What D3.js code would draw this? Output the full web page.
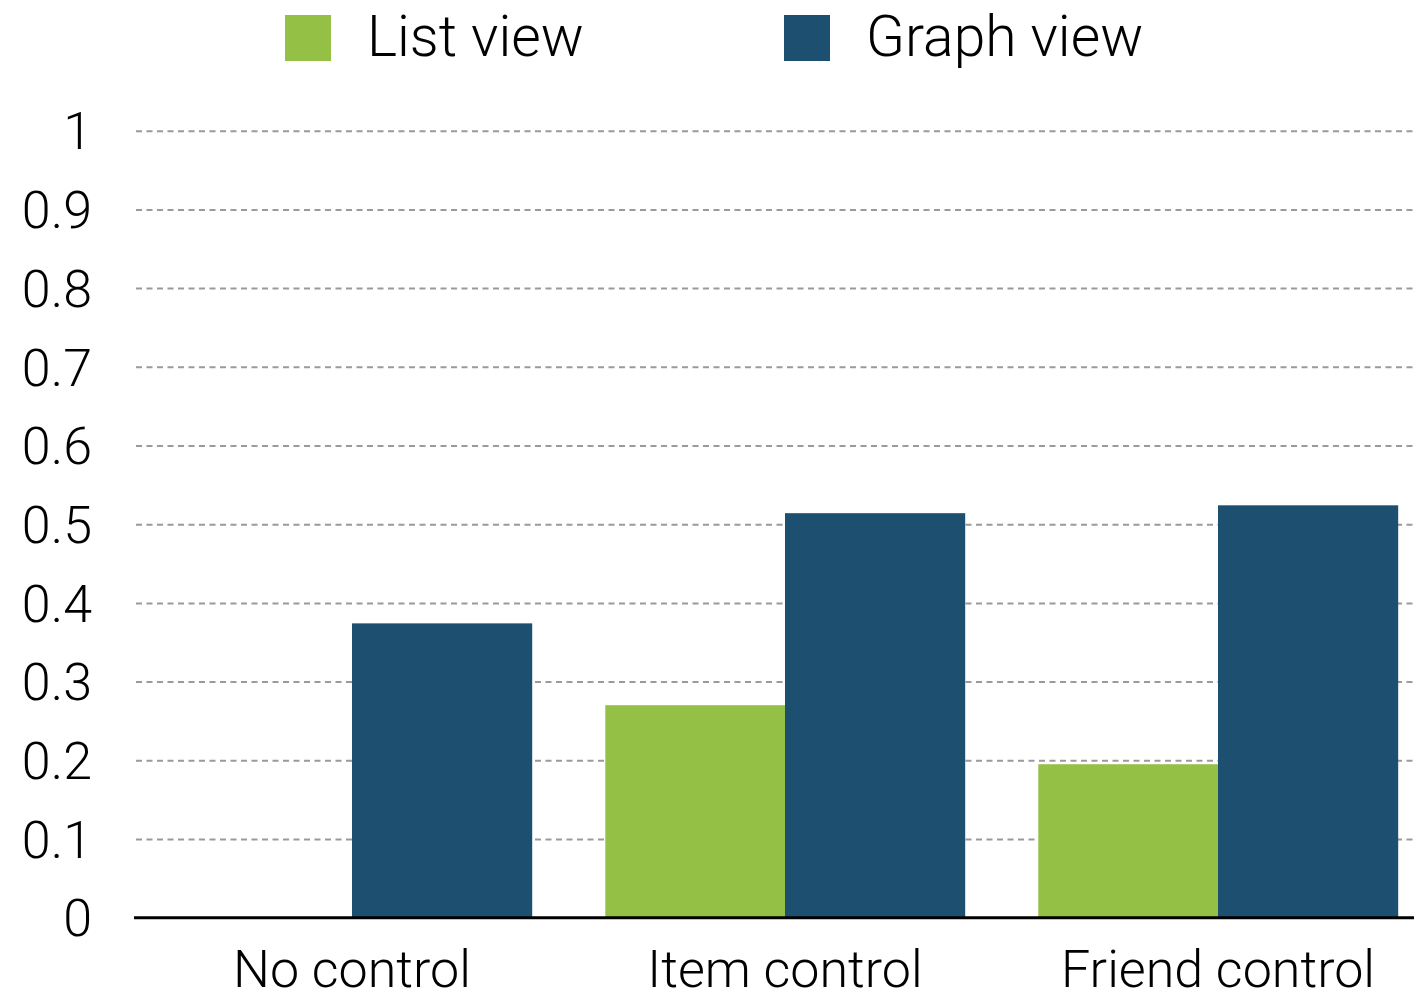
<!DOCTYPE html>
<html>
<head>
<meta charset="utf-8">
<script src="https://cdn.jsdelivr.net/npm/d3@7"></script>
<style>
  body { margin: 0; background: #fff; }
  svg text { font-family: "Helvetica Neue", Roboto, "Liberation Sans", sans-serif; font-weight: 300; fill: #000; }
</style>
</head>
<body>
<div id="chart"></div>
<script>
// data
var categories = ["No control", "Item control", "Friend control"];
var seriesNames = ["List view", "Graph view"];
var listView = [0, 0.270, 0.195];
var graphView = [0.374, 0.514, 0.524];
var yTicks = [0, 0.1, 0.2, 0.3, 0.4, 0.5, 0.6, 0.7, 0.8, 0.9, 1];
var colors = ["#93c045", "#1c4f70"];

var width = 1414, height = 999;

var svg = d3.select("#chart")
    .append("svg")
    .attr("width", width)
    .attr("height", height);

// y scale: 0 sits on the black baseline, 1 on the top dotted line
var y = d3.scaleLinear()
    .domain([0, 1])
    .range([917.7, 130.7]);

// the last group runs off the right edge in the original, so the range does too
var x0 = d3.scaleBand()
    .domain(categories)
    .range([135.5, 1434.5])
    .paddingInner(0.17)
    .paddingOuter(0.085);

var x1 = d3.scaleBand()
    .domain(seriesNames)
    .range([0, x0.bandwidth()]);

// gridlines
var grid = d3.axisLeft(y)
    .tickValues(yTicks.slice(1))
    .tickSize(-(width - 136))
    .tickFormat("");

svg.append("g")
    .attr("transform", "translate(136,0)")
    .call(grid)
    .call(function(g){
        g.select(".domain").remove();
        g.selectAll("line")
         .attr("stroke", "#9a9a9a")
         .attr("stroke-width", 2)
         .attr("stroke-dasharray", "6,4.5");
    });

// bars
var rows = categories.map(function(c, i){
    return { cat: c, values: [listView[i], graphView[i]] };
});

var groups = svg.selectAll("g.group")
    .data(rows)
    .enter()
    .append("g")
    .attr("class", "group")
    .attr("transform", function(d){ return "translate(" + x0(d.cat) + ",0)"; });

groups.selectAll("rect")
    .data(function(d){
        return d.values.map(function(v, j){ return { name: seriesNames[j], value: v, j: j }; });
    })
    .enter()
    .append("rect")
    .attr("x", function(d){ return x1(d.name); })
    .attr("width", x1.bandwidth() + 0.5)
    .attr("y", function(d){ return y(d.value); })
    .attr("height", function(d){ return y(0) - y(d.value); })
    .attr("fill", function(d){ return colors[d.j]; });

// baseline
svg.append("line")
    .attr("x1", 134)
    .attr("x2", width)
    .attr("y1", y(0))
    .attr("y2", y(0))
    .attr("stroke", "#000")
    .attr("stroke-width", 3);

// y tick labels
svg.append("g")
    .selectAll("text")
    .data(yTicks)
    .enter()
    .append("text")
    .attr("x", 92)
    .attr("y", function(d){ return y(d); })
    .attr("dy", "0.36em")
    .attr("text-anchor", "end")
    .style("font-size", "52px")
    .text(function(d){ return d === 0 || d === 1 ? String(d) : d.toFixed(1); });

// x labels
svg.append("g")
    .selectAll("text")
    .data(categories)
    .enter()
    .append("text")
    .attr("x", function(d){ return x0(d) + x0.bandwidth() / 2; })
    .attr("y", 987)
    .attr("text-anchor", "middle")
    .style("font-size", "52px")
    .text(function(d){ return d; });

// legend
var legendX = [285, 784];
var legend = svg.selectAll("g.legend")
    .data(seriesNames)
    .enter()
    .append("g")
    .attr("class", "legend")
    .attr("transform", function(d, i){ return "translate(" + legendX[i] + ",15)"; });

legend.append("rect")
    .attr("width", 46)
    .attr("height", 46)
    .attr("fill", function(d, i){ return colors[i]; });

legend.append("text")
    .attr("x", 82)
    .attr("y", 41)
    .style("font-size", "57px")
    .text(function(d){ return d; });
</script>
</body>
</html>
